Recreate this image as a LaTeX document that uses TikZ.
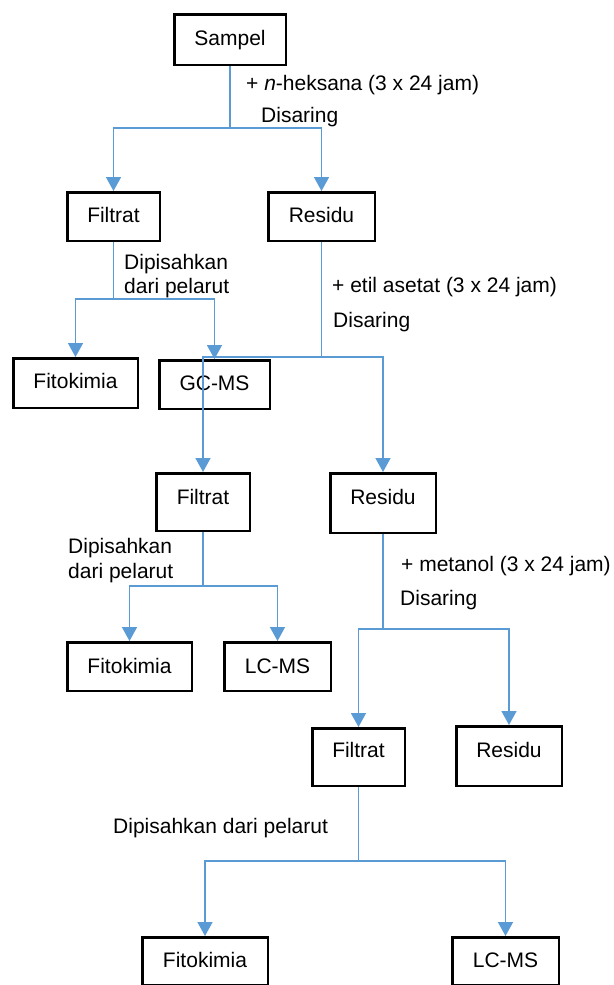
\documentclass[tikz,border=0pt]{standalone}
\usepackage{fontspec}
\setmainfont{Liberation Sans}
\usetikzlibrary{arrows.meta}
\definecolor{lineblue}{RGB}{91,155,213}
\begin{document}
\begin{tikzpicture}[x=1pt,y=-1pt,
  box/.style={draw=black, line width=2.5pt, inner sep=0pt, text height=15pt, text depth=4pt, font=\fontsize{21}{25}\selectfont},
  lbl/.style={anchor=base west, inner sep=0pt, font=\fontsize{21}{25}\selectfont},
  conn/.style={draw=lineblue, line width=1.5pt},
  arr/.style={conn, -{Triangle[width=15pt,length=14pt]}},
]
\useasboundingbox (0,0) rectangle (613,985);
\fill[white] (0,0) rectangle (613,985);
\clip (0,0) rectangle (613,985);

% boxes
\node[box, minimum width=111.5pt, minimum height=50.5pt] (sampel) at (230,39.5) {Sampel};
\node[box, minimum width=92.5pt, minimum height=48.5pt] (filtratA) at (113.5,216.5) {Filtrat};
\node[box, minimum width=106.5pt, minimum height=48.5pt] (residuA) at (321.5,216.5) {Residu};
\node[box, minimum width=124.5pt, minimum height=49.5pt] (fitoA) at (75.5,383) {Fitokimia};
\node[box, minimum width=110.5pt, minimum height=48.5pt] (gcms) at (214.5,384.5) {GC-MS};
\node[box, minimum width=93.5pt, minimum height=57.5pt, text depth=11pt] (filtratB) at (203,502) {Filtrat};
\node[box, minimum width=105.5pt, minimum height=59.5pt, text depth=13pt] (residuB) at (383,503) {Residu};
\node[box, minimum width=124.5pt, minimum height=48.5pt, text depth=1pt] (fitoB) at (129.5,666.5) {Fitokimia};
\node[box, minimum width=106.5pt, minimum height=48.5pt, text depth=1pt] (lcmsB) at (277.5,666.5) {LC-MS};
\node[box, minimum width=92.5pt, minimum height=57.5pt, text depth=14pt] (filtratC) at (358.5,757) {Filtrat};
\node[box, minimum width=105.5pt, minimum height=59.5pt, text depth=13pt] (residuC) at (509,756) {Residu};
\node[box, minimum width=125.5pt, minimum height=47.5pt, text depth=2pt] (fitoC) at (205,961) {Fitokimia};
\node[box, minimum width=106.5pt, minimum height=47.5pt, text depth=2pt] (lcmsC) at (505.5,961) {LC-MS};

% labels
\node[lbl] (l1) at (246,90) {+ \textit{n}-heksana (3 x 24 jam)};
\node[lbl] (l2) at (261,122) {Disaring};
\node[lbl] (l3) at (124,269) {Dipisahkan};
\node[lbl] (l4) at (124,293) {dari pelarut};
\node[lbl] (l5) at (332,292) {+ etil asetat (3 x 24 jam)};
\node[lbl] (l6) at (333,327) {Disaring};
\node[lbl] (l7) at (68,553) {Dipisahkan};
\node[lbl] (l8) at (68,578) {dari pelarut};
\node[lbl] (l9) at (401,571) {+ metanol (3 x 24 jam)};
\node[lbl] (l10) at (400,605) {Disaring};
\node[lbl] (l11) at (113,833) {Dipisahkan dari pelarut};

% junctions
\coordinate (j1) at (230,128);
\coordinate (j2) at (113.5,299);
\coordinate (j3) at (321.5,357);
\coordinate (j4) at (203,586);
\coordinate (j5) at (383,629);
\coordinate (j6) at (358.5,861);

% connectors
\draw[conn] (sampel.south) -- (j1);
\draw[arr] (j1) -| (filtratA.north);
\draw[arr] (j1) -| (residuA.north);

\draw[conn] (filtratA.south) -- (j2);
\draw[arr] (j2) -| (fitoA.north);
\draw[arr] (j2) -| (gcms.north);

\draw[conn] (residuA.south) -- (j3);
\draw[arr] (j3) -| (filtratB.north);
\draw[arr] (j3) -| (residuB.north);

\draw[conn] (filtratB.south) -- (j4);
\draw[arr] (j4) -| (fitoB.north);
\draw[arr] (j4) -| (lcmsB.north);

\draw[conn] (residuB.south) -- (j5);
\draw[arr] (j5) -| (filtratC.north);
\draw[arr] (j5) -| (residuC.north);

\draw[conn] (filtratC.south) -- (j6);
\draw[arr] (j6) -| (fitoC.north);
\draw[arr] (j6) -| (lcmsC.north);
\end{tikzpicture}
\end{document}
